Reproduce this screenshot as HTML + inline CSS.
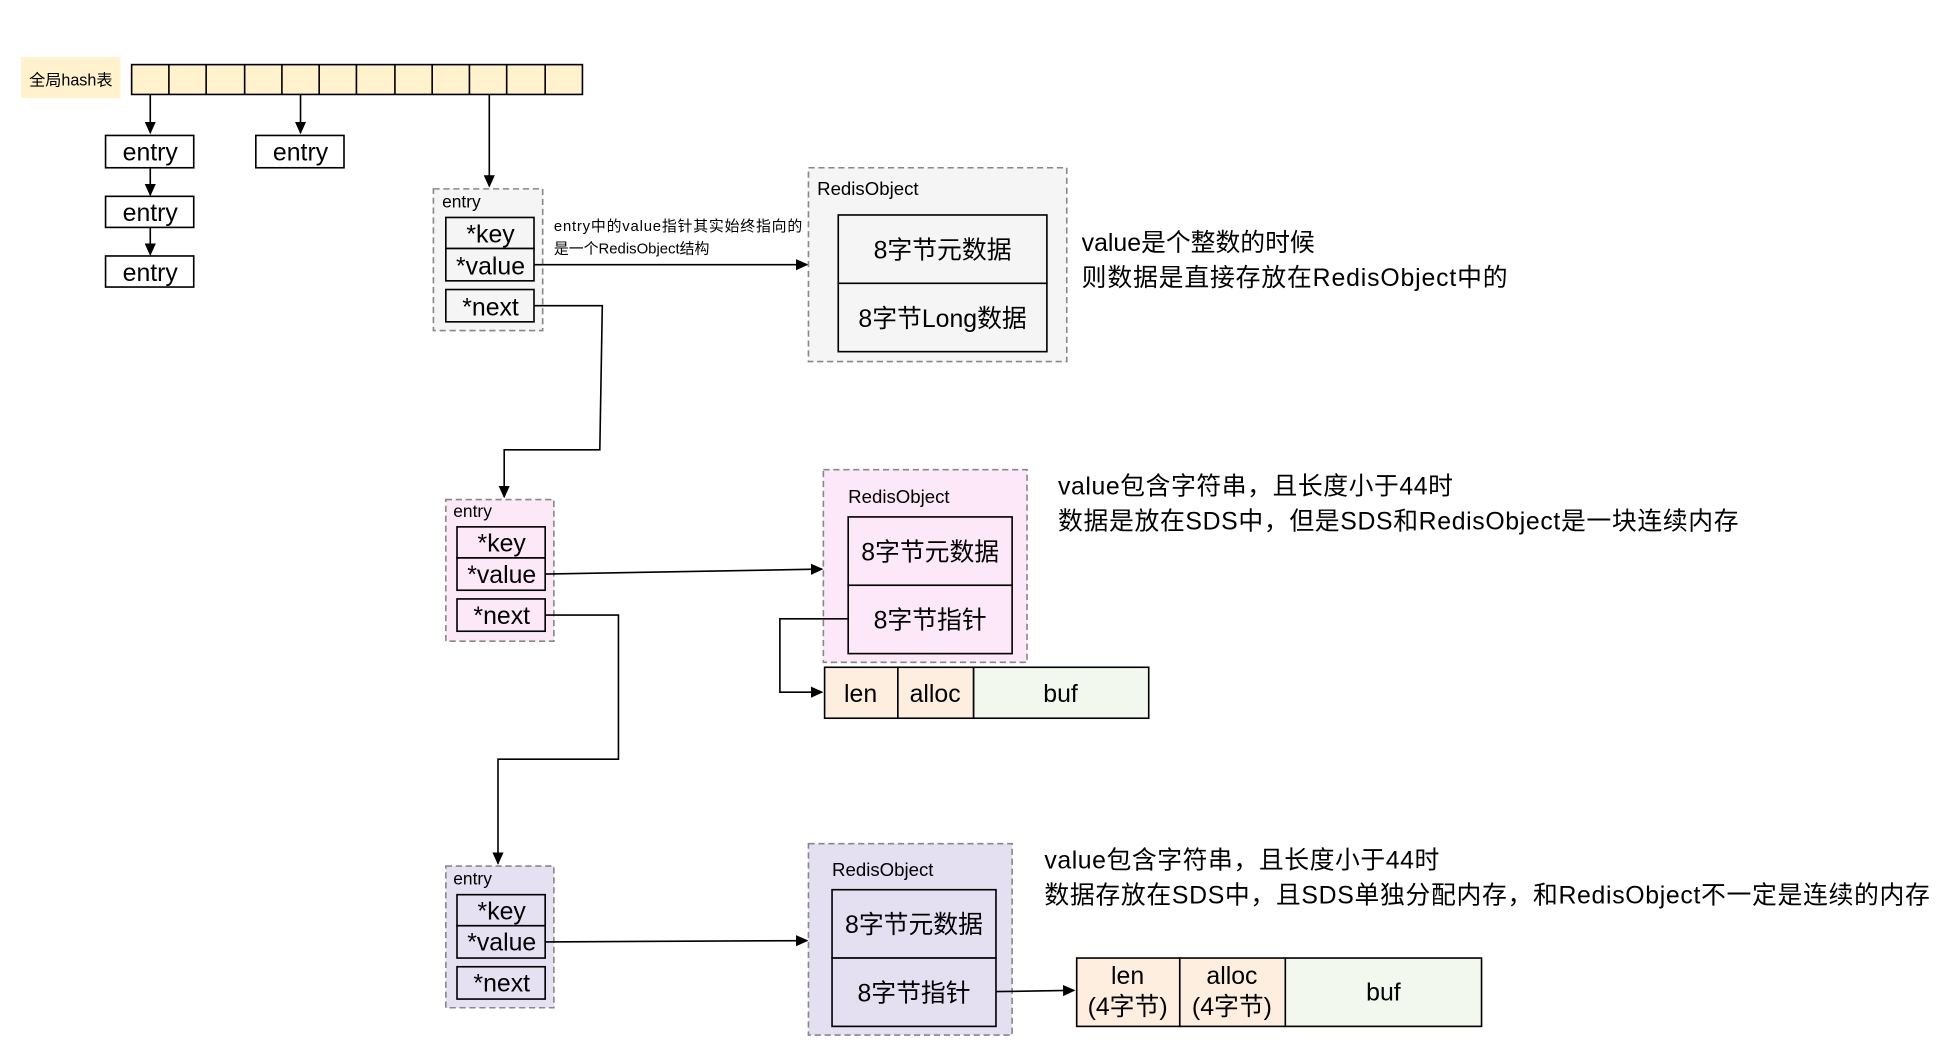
<!DOCTYPE html>
<html><head><meta charset="utf-8"><style>
html,body{margin:0;padding:0;background:#fff;}
svg{display:block;}
text{font-family:"Liberation Sans","Noto Sans CJK SC",sans-serif;fill:#000;}
</style></head><body>
<svg width="1946" height="1050" viewBox="0 0 1567 845" preserveAspectRatio="none" xmlns="http://www.w3.org/2000/svg">
<defs><marker id="a" markerWidth="10" markerHeight="10" refX="9" refY="5" orient="auto" markerUnits="userSpaceOnUse"><path d="M0,0.5 L10,5 L0,9.5 z" fill="#000"/></marker></defs>
<g stroke="#000" stroke-width="1.3" fill="none">
<rect x="17" y="46" width="80" height="33" fill="#fff2cc" stroke="none"/>
<rect x="106" y="52" width="363" height="24" fill="#fff2cc"/>
<path d="M136,52V76M166,52V76M197,52V76M227,52V76M257,52V76M287,52V76M318,52V76M348,52V76M378,52V76M408,52V76M439,52V76"/>
<path d="M121,76V107" marker-end="url(#a)"/>
<path d="M242,76V107" marker-end="url(#a)"/>
<path d="M394,76V150" marker-end="url(#a)"/>
<path d="M121,135V157" marker-end="url(#a)"/>
<path d="M121,183V205" marker-end="url(#a)"/>
<g fill="#fff">
<rect x="85" y="109" width="71" height="26"/><rect x="206" y="109" width="71" height="26"/>
<rect x="85" y="158" width="71" height="25"/><rect x="85" y="206" width="71" height="25"/>
</g>
<rect x="349" y="152" width="88" height="114" fill="#f5f5f5" stroke="#888" stroke-dasharray="5,3"/>
<rect x="359" y="175" width="71" height="25" fill="#f5f5f5"/><rect x="359" y="200" width="71" height="26" fill="#f5f5f5"/><rect x="359" y="233" width="71" height="26" fill="#f5f5f5"/>
<path d="M430,213H650" marker-end="url(#a)"/>
<rect x="651" y="135" width="208" height="156" fill="#f5f5f5" stroke="#888" stroke-dasharray="5,3"/>
<rect x="675" y="173" width="168" height="55" fill="#f5f5f5"/><rect x="675" y="228" width="168" height="55" fill="#f5f5f5"/>
<path d="M430,246H485L483,362H406V400" marker-end="url(#a)"/>
<rect x="359" y="402" width="87" height="114" fill="#fce8f6" stroke="#888" stroke-dasharray="5,3"/>
<rect x="368" y="424" width="71" height="25" fill="#fce8f6"/><rect x="368" y="449" width="71" height="26" fill="#fce8f6"/><rect x="368" y="482" width="71" height="26" fill="#fce8f6"/>
<path d="M439,462L662,458" marker-end="url(#a)"/>
<rect x="663" y="378" width="164" height="155" fill="#fce8f8" stroke="#888" stroke-dasharray="5,3"/>
<rect x="683" y="416" width="132" height="55" fill="#fce8f8"/><rect x="683" y="471" width="132" height="55" fill="#fce8f8"/>
<path d="M683,498H628V557H662" marker-end="url(#a)"/>
<rect x="664" y="537" width="59" height="41" fill="#fdeee0"/><rect x="723" y="537" width="61" height="41" fill="#fdeee0"/><rect x="784" y="537" width="141" height="41" fill="#f3f8ee"/>
<path d="M439,495H498V611H401V695" marker-end="url(#a)"/>
<rect x="359" y="697" width="87" height="114" fill="#e6e0f3" stroke="#888" stroke-dasharray="5,3"/>
<rect x="368" y="720" width="71" height="25" fill="#e6e0f3"/><rect x="368" y="745" width="71" height="26" fill="#e6e0f3"/><rect x="368" y="778" width="71" height="26" fill="#e6e0f3"/>
<path d="M439,758L650,757" marker-end="url(#a)"/>
<rect x="651" y="679" width="164" height="154" fill="#e5dff2" stroke="#888" stroke-dasharray="5,3"/>
<rect x="670" y="716" width="132" height="55" fill="#e5dff2"/><rect x="670" y="771" width="132" height="55" fill="#e5dff2"/>
<path d="M802,798L865,797" marker-end="url(#a)"/>
<rect x="867" y="771" width="83" height="55" fill="#fdeee0"/><rect x="950" y="771" width="85" height="55" fill="#fdeee0"/><rect x="1035" y="771" width="158" height="55" fill="#f3f8ee"/>
</g>
<g font-size="13"><text x="57" y="69" text-anchor="middle">全局hash表</text></g>
<g font-size="20" text-anchor="middle">
<text x="121" y="129">entry</text><text x="242" y="129">entry</text><text x="121" y="178">entry</text><text x="121" y="226">entry</text>
<text x="395" y="195">*key</text><text x="395" y="221">*value</text><text x="395" y="254">*next</text>
<text x="759" y="208">8字节元数据</text><text x="759" y="263">8字节Long数据</text>
<text x="404" y="444">*key</text><text x="404" y="469">*value</text><text x="404" y="502">*next</text>
<text x="749" y="451">8字节元数据</text><text x="749" y="506">8字节指针</text>
<text x="693" y="565">len</text><text x="753" y="565">alloc</text><text x="854" y="565">buf</text>
<text x="404" y="740">*key</text><text x="404" y="765">*value</text><text x="404" y="798">*next</text>
<text x="736" y="751">8字节元数据</text><text x="736" y="806">8字节指针</text>
<text x="908" y="792">len</text><text x="908" y="817">(4字节)</text>
<text x="992" y="792">alloc</text><text x="992" y="817">(4字节)</text>
<text x="1114" y="805">buf</text>
</g>
<g font-size="14"><text x="356" y="167">entry</text><text x="365" y="416">entry</text><text x="365" y="712">entry</text></g>
<g font-size="15"><text x="658" y="157">RedisObject</text><text x="683" y="405">RedisObject</text><text x="670" y="705">RedisObject</text></g>
<g font-size="12"><text x="446" y="186" textLength="200">entry中的value指针其实始终指向的</text><text x="446" y="204">是一个RedisObject结构</text></g>
<g font-size="20">
<text x="871" y="202">value是个整数的时候</text><text x="871" y="230" textLength="343">则数据是直接存放在RedisObject中的</text>
<text x="852" y="398" textLength="318">value包含字符串，且长度小于44时</text><text x="852" y="426" textLength="548">数据是放在SDS中，但是SDS和RedisObject是一块连续内存</text>
<text x="841" y="699" textLength="318">value包含字符串，且长度小于44时</text><text x="841" y="727" textLength="713">数据存放在SDS中，且SDS单独分配内存，和RedisObject不一定是连续的内存</text>
</g>
</svg>
</body></html>
